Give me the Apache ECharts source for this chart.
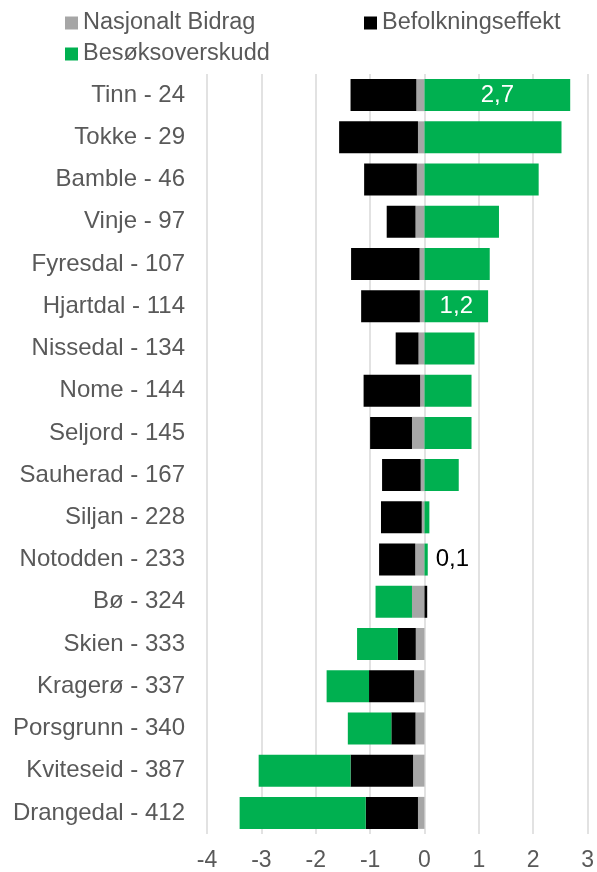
<!DOCTYPE html>
<html>
<head>
<meta charset="utf-8">
<script src="https://cdn.jsdelivr.net/npm/echarts@6/dist/echarts.min.js"></script>
<style>
  html, body { margin: 0; padding: 0; background: #fff; }
  #chart { width: 597px; height: 872px; }
</style>
</head>
<body>
<div id="chart"></div>
<script>
// Municipalities with rank
const categories = [
  'Tinn - 24', 'Tokke - 29', 'Bamble - 46', 'Vinje - 97', 'Fyresdal - 107',
  'Hjartdal - 114', 'Nissedal - 134', 'Nome - 144', 'Seljord - 145', 'Sauherad - 167',
  'Siljan - 228', 'Notodden - 233', 'Bø - 324', 'Skien - 333', 'Kragerø - 337',
  'Porsgrunn - 340', 'Kviteseid - 387', 'Drangedal - 412'
];

const nasjonaltBidrag = [
  -0.15, -0.12, -0.14, -0.165, -0.09,
  -0.085, -0.11, -0.08, -0.23, -0.07,
  -0.05, -0.17, -0.23, -0.16, -0.19,
  -0.165, -0.21, -0.12
];

const befolkningseffekt = [
  -1.21, -1.45, -0.97, -0.53, -1.26,
  -1.08, -0.42, -1.04, -0.77, -0.71,
  -0.75, -0.665, 0.05, -0.33, -0.83,
  -0.445, -1.15, -0.96
];

const besoksoverskudd = [
  2.68, 2.52, 2.10, 1.37, 1.20,
  1.17, 0.92, 0.865, 0.865, 0.63,
  0.09, 0.06, -0.67, -0.75, -0.78,
  -0.80, -1.69, -2.32
];

const xTicks = { min: -4, max: 3, interval: 1 };

// Which bars carry a value label, and how
const labelled = {
  'Tinn - 24': { position: 'inside', color: '#ffffff' },
  'Hjartdal - 114': { position: 'inside', color: '#ffffff' },
  'Notodden - 233': { position: 'right', color: '#000000', distance: 8 }
};

const fmt = v => v.toFixed(1).replace('.', ',');
const font = 'Liberation Sans, Arial, sans-serif';

const greenData = besoksoverskudd.map((v, i) => {
  const cfg = labelled[categories[i]];
  if (!cfg) return v;
  return {
    value: v,
    label: {
      show: true,
      position: cfg.position,
      distance: cfg.distance || 5,
      color: cfg.color,
      fontSize: 24,
      fontFamily: font,
      formatter: p => fmt(p.value)
    }
  };
});

const chart = echarts.init(document.getElementById('chart'));
const legendText = { color: '#595959', fontSize: 23.5, fontFamily: font };
const legendBase = { itemWidth: 13, itemHeight: 13, itemGap: 4, textStyle: legendText, padding: 0, icon: 'rect' };

chart.setOption({
  animation: false,
  textStyle: { fontFamily: font },
  legend: [
    Object.assign({ data: ['Nasjonalt Bidrag'], left: 65, top: 11 }, legendBase),
    Object.assign({ data: ['Befolkningseffekt'], left: 364, top: 11 }, legendBase),
    Object.assign({ data: ['Besøksoverskudd'], left: 65, top: 42 }, legendBase)
  ],
  grid: { left: 207, right: 7, top: 74, bottom: 38, containLabel: false },
  xAxis: {
    type: 'value',
    min: xTicks.min,
    max: xTicks.max,
    interval: xTicks.interval,
    axisLine: { show: false },
    axisTick: { show: false },
    axisLabel: { color: '#595959', fontSize: 23, fontFamily: font, margin: 15 },
    splitLine: { show: true, lineStyle: { color: '#d9d9d9', width: 1.5 } }
  },
  yAxis: {
    type: 'category',
    data: categories,
    inverse: true,
    axisLine: { show: false },
    axisTick: { show: false },
    axisLabel: { color: '#595959', fontSize: 24, fontFamily: font, margin: 22 },
    splitLine: { show: false }
  },
  series: [
    {
      name: 'Nasjonalt Bidrag', type: 'bar', stack: 'total',
      data: nasjonaltBidrag, barWidth: 32,
      itemStyle: { color: '#a6a6a6' }
    },
    {
      name: 'Befolkningseffekt', type: 'bar', stack: 'total',
      data: befolkningseffekt, barWidth: 32,
      itemStyle: { color: '#000000' }
    },
    {
      name: 'Besøksoverskudd', type: 'bar', stack: 'total',
      data: greenData, barWidth: 32,
      itemStyle: { color: '#00b050' }
    }
  ]
});
</script>
</body>
</html>
